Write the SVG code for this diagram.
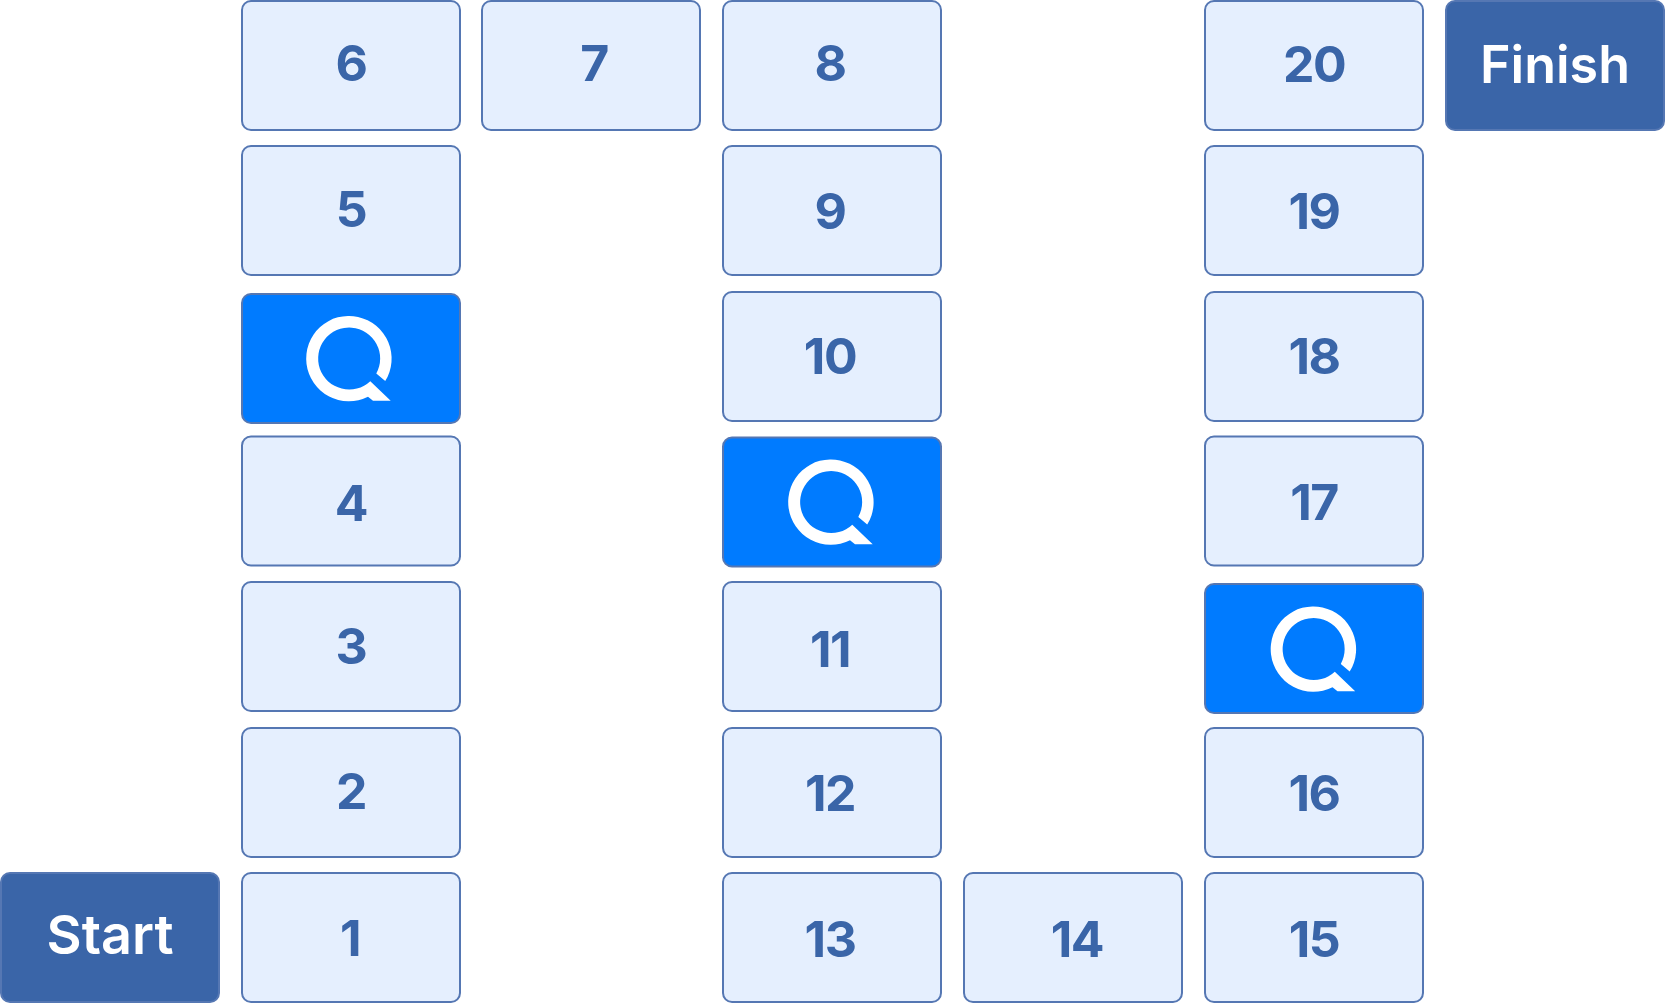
<svg xmlns="http://www.w3.org/2000/svg" width="1665" height="1003" viewBox="0 0 1665 1003">
<style>
.n rect{fill:#e5effe;stroke:#5577b3;stroke-width:2}
.d rect{fill:#3a65a8;stroke:#5577b3;stroke-width:2}
.q rect{fill:#007bff;stroke:#5577b3;stroke-width:2}
text{font-family:Inter,"Noto Sans","Liberation Sans",sans-serif;font-weight:700;font-size:50px;text-anchor:middle}
.n text{fill:#3a65a8;letter-spacing:-1.5px}
.d text{fill:#fff;font-weight:600}
.qi{fill:#fff}
</style>
<defs>
<path id="qi" class="qi" d="M36.2 22.6A42.7 42.7 0 1 0 19 38.300L24 42.300L41.700 42.300L21.300 22.700A31 31 0 1 1 27.300 15Z"/>
</defs>
<g id="connectors"/>
<g id="start" class="d"><rect x="1" y="873" width="218" height="129" rx="9"/><text x="110" y="954" style="font-size:54px">Start</text></g>
<g id="n1" class="n"><rect x="242" y="873" width="218" height="129" rx="9"/><text x="350" y="956">1</text></g>
<g id="n2" class="n"><rect x="242" y="728" width="218" height="129" rx="9"/><text x="351" y="809">2</text></g>
<g id="n3" class="n"><rect x="242" y="582" width="218" height="129" rx="9"/><text x="351" y="664">3</text></g>
<g id="n4" class="n"><rect x="242" y="436.500" width="218" height="129" rx="9"/><text x="351" y="521">4</text></g>
<g id="q1" class="q"><rect x="242" y="294" width="218" height="129" rx="9"/><use href="#qi" x="349" y="358.500"/></g>
<g id="n5" class="n"><rect x="242" y="146" width="218" height="129" rx="9"/><text x="351" y="227">5</text></g>
<g id="n6" class="n"><rect x="242" y="1" width="218" height="129" rx="9"/><text x="351" y="81">6</text></g>
<g id="n7" class="n"><rect x="482" y="1" width="218" height="129" rx="9"/><text x="594" y="81">7</text></g>
<g id="n8" class="n"><rect x="723" y="1" width="218" height="129" rx="9"/><text x="830" y="81">8</text></g>
<g id="n9" class="n"><rect x="723" y="146" width="218" height="129" rx="9"/><text x="830" y="229">9</text></g>
<g id="n10" class="n"><rect x="723" y="292" width="218" height="129" rx="9"/><text x="830" y="374">10</text></g>
<g id="q2" class="q"><rect x="723" y="437.500" width="218" height="129" rx="9"/><use href="#qi" x="831" y="502"/></g>
<g id="n11" class="n"><rect x="723" y="582" width="218" height="129" rx="9"/><text x="830" y="667">11</text></g>
<g id="n12" class="n"><rect x="723" y="728" width="218" height="129" rx="9"/><text x="830" y="811">12</text></g>
<g id="n13" class="n"><rect x="723" y="873" width="218" height="129" rx="9"/><text x="830" y="957">13</text></g>
<g id="n14" class="n"><rect x="964" y="873" width="218" height="129" rx="9"/><text x="1077" y="957">14</text></g>
<g id="n15" class="n"><rect x="1205" y="873" width="218" height="129" rx="9"/><text x="1314" y="957">15</text></g>
<g id="n16" class="n"><rect x="1205" y="728" width="218" height="129" rx="9"/><text x="1314" y="811">16</text></g>
<g id="q3" class="q"><rect x="1205" y="584" width="218" height="129" rx="9"/><use href="#qi" x="1313.500" y="649"/></g>
<g id="n17" class="n"><rect x="1205" y="436.500" width="218" height="129" rx="9"/><text x="1314" y="520">17</text></g>
<g id="n18" class="n"><rect x="1205" y="292" width="218" height="129" rx="9"/><text x="1314" y="374">18</text></g>
<g id="n19" class="n"><rect x="1205" y="146" width="218" height="129" rx="9"/><text x="1314" y="229">19</text></g>
<g id="n20" class="n"><rect x="1205" y="1" width="218" height="129" rx="9"/><text x="1314" y="82">20</text></g>
<g id="finish" class="d"><rect x="1446" y="1" width="218" height="129" rx="9"/><text x="1555" y="83" style="font-size:52px">Finish</text></g>
</svg>
